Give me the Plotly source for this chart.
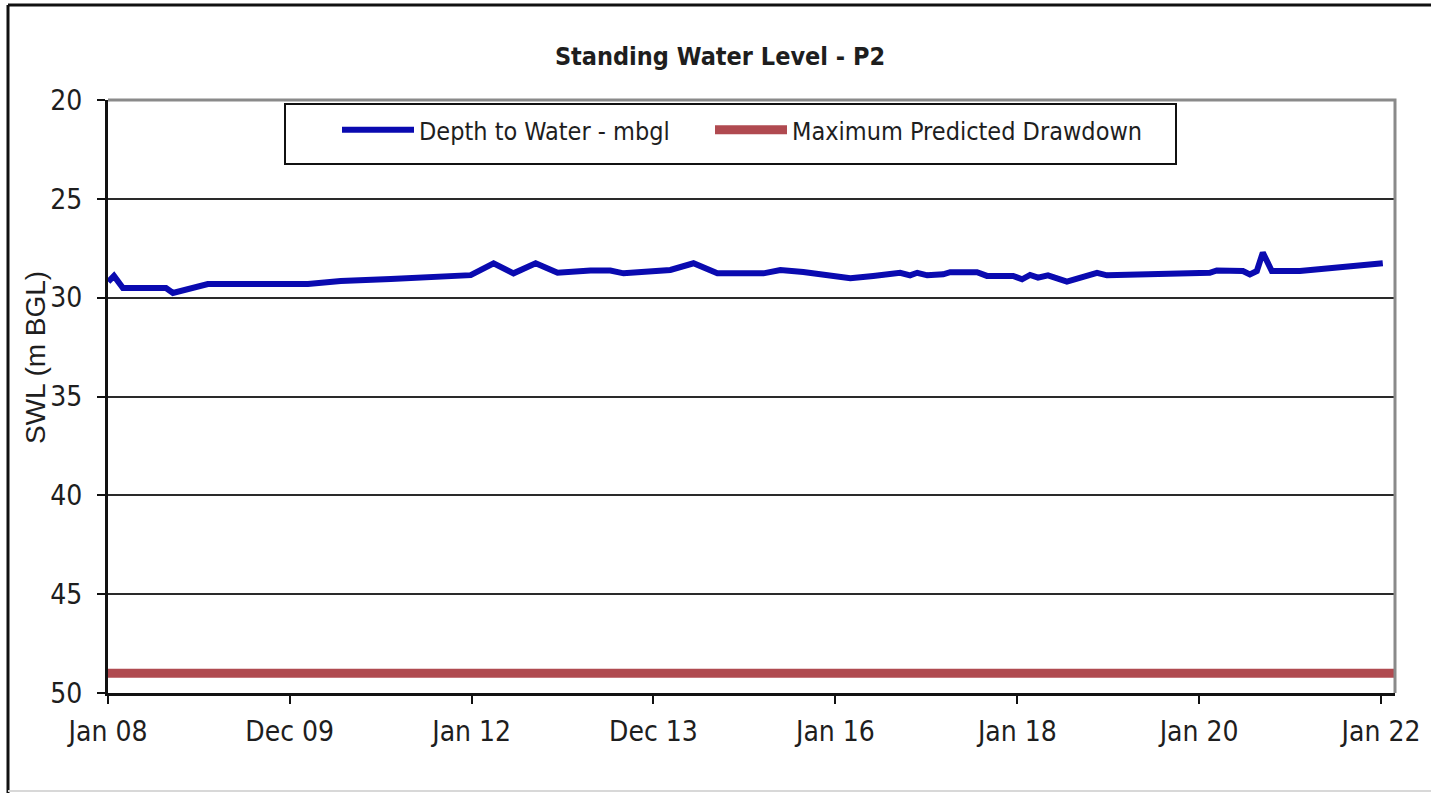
import plotly.graph_objects as go

# Depth-to-water readings for bore P2 (metres below ground level)
obs_dates = [
    "2008-01-02", "2008-01-25", "2008-03-01", "2008-08-21", "2008-09-18",
    "2008-11-29", "2009-02-05", "2010-03-14", "2010-07-24", "2011-02-10",
    "2011-08-29", "2011-12-28", "2012-03-29", "2012-06-17", "2012-09-14",
    "2012-12-11", "2013-04-22", "2013-07-11", "2013-09-02", "2013-12-19",
    "2014-03-09", "2014-06-10", "2014-09-14", "2015-03-18", "2015-05-25",
    "2015-08-25", "2016-03-01", "2016-06-01", "2016-09-17", "2016-10-27",
    "2016-11-25", "2017-01-04", "2017-03-09", "2017-04-06", "2017-07-23",
    "2017-09-01", "2017-12-15", "2018-01-20", "2018-02-21", "2018-03-25",
    "2018-05-04", "2018-07-19", "2018-09-21", "2018-11-17", "2018-12-27",
    "2019-06-17", "2020-02-13", "2020-03-12", "2020-06-25", "2020-07-23",
    "2020-08-20", "2020-09-13", "2020-10-19", "2021-02-09", "2022-01-08",
]
depth_to_water = [
    29.19, 28.90, 29.51, 29.51, 29.76,
    29.51, 29.31, 29.31, 29.16, 29.05,
    28.95, 28.86, 28.26, 28.77, 28.26,
    28.74, 28.63, 28.63, 28.77, 28.63,
    28.60, 28.26, 28.77, 28.77, 28.60,
    28.70, 29.02, 28.90, 28.74, 28.87,
    28.74, 28.87, 28.82, 28.71, 28.71,
    28.90, 28.90, 29.07, 28.85, 28.99,
    28.87, 29.19, 28.99, 28.74, 28.87,
    28.82, 28.74, 28.62, 28.65, 28.82,
    28.65, 27.72, 28.65, 28.65, 28.26,
]

# Maximum predicted drawdown (constant limit)
drawdown_dates = ["2008-01-01", "2022-02-26"]
drawdown_level = [49.0, 49.0]

# Axis settings
x_range = ["2008-01-01", "2022-02-26"]
tick_dates = ["2008-01-01", "2009-12-31", "2012-01-01", "2013-12-31",
              "2016-01-01", "2018-01-01", "2020-01-01", "2022-01-01"]
tick_labels = ["Jan 08", "Dec 09", "Jan 12", "Dec 13",
               "Jan 16", "Jan 18", "Jan 20", "Jan 22"]
y_ticks = [20, 25, 30, 35, 40, 45, 50]

NARROW = "DejaVu Sans Condensed, Liberation Sans Narrow, Liberation Sans, sans-serif"
TEXT = "#1e1e1e"

fig = go.Figure()
fig.add_trace(go.Scatter(
    x=obs_dates, y=depth_to_water, mode="lines",
    name="Depth to Water - mbgl", legend="legend",
    line=dict(color="#0A0AB0", width=6),
))
fig.add_trace(go.Scatter(
    x=drawdown_dates, y=drawdown_level, mode="lines",
    name="Maximum Predicted Drawdown", legend="legend2",
    line=dict(color="#B04A50", width=9),
))

W, H = 1431, 793
L, R, T, B = 108, 36, 100, 100

def px_x(p):
    return (p - L) / (W - L - R)

def px_y(p):
    return (H - B - p) / (H - T - B)

legend_common = dict(
    orientation="h", xanchor="left", yanchor="top",
    y=px_y(107),
    bgcolor="rgba(0,0,0,0)", borderwidth=0,
    font=dict(family=NARROW, size=25, color=TEXT),
    itemwidth=72,
)

fig.update_layout(
    width=W, height=H,
    margin=dict(l=L, r=R, t=T, b=B),
    paper_bgcolor="white", plot_bgcolor="white",
    title=dict(
        text="<b>Standing Water Level - P2</b>",
        font=dict(family=NARROW, size=25, color=TEXT),
        x=720 / W, xanchor="center", xref="container",
        y=1 - 56 / H, yanchor="middle", yref="container",
    ),
    showlegend=True,
    legend=dict(legend_common, x=px_x(337)),
    legend2=dict(legend_common, x=px_x(710)),
    xaxis=dict(
        type="date", range=x_range,
        tickvals=tick_dates, ticktext=tick_labels,
        showgrid=False, zeroline=False,
        showline=True, linecolor="#111", linewidth=3,
        ticks="outside", ticklen=8, tickwidth=2, tickcolor="#111",
        tickfont=dict(family=NARROW, size=28, color=TEXT),
        ticklabelstandoff=3,
    ),
    yaxis=dict(
        range=[50, 20], tickvals=y_ticks,
        showgrid=True, gridcolor="#2a2a2a", gridwidth=2,
        zeroline=False,
        showline=True, linecolor="#111", linewidth=3,
        ticks="outside", ticklen=8, tickwidth=2, tickcolor="#111",
        tickfont=dict(family=NARROW, size=28, color=TEXT),
        ticklabelstandoff=9,
    ),
    annotations=[dict(
        text="SWL (m BGL)", textangle=-90,
        xref="paper", yref="paper",
        x=px_x(35), y=px_y(358), xanchor="center", yanchor="middle",
        showarrow=False,
        font=dict(family="Liberation Sans, Arial, sans-serif", size=28, color=TEXT),
    )],
    shapes=[
        # legend frame
        dict(type="rect", xref="paper", yref="paper",
             x0=px_x(285), x1=px_x(1176), y0=px_y(164), y1=px_y(104),
             line=dict(color="#111", width=2), fillcolor="white", layer="below"),
        # grey top/right plot border
        dict(type="path", xref="paper", yref="paper",
             path="M 0,1 L 1,1 L 1,0",
             line=dict(color="#8a8a8a", width=3), layer="above"),
        # outer chart frame
        dict(type="line", xref="paper", yref="paper",
             x0=px_x(8), x1=px_x(1445), y0=px_y(5), y1=px_y(5),
             line=dict(color="#111", width=3)),
        dict(type="line", xref="paper", yref="paper",
             x0=px_x(8), x1=px_x(8), y0=px_y(5), y1=px_y(800),
             line=dict(color="#111", width=3)),
        dict(type="line", xref="paper", yref="paper",
             x0=px_x(8), x1=px_x(1445), y0=px_y(791), y1=px_y(791),
             line=dict(color="#d8d8d8", width=2)),
    ],
)

fig.write_html("out.html")
